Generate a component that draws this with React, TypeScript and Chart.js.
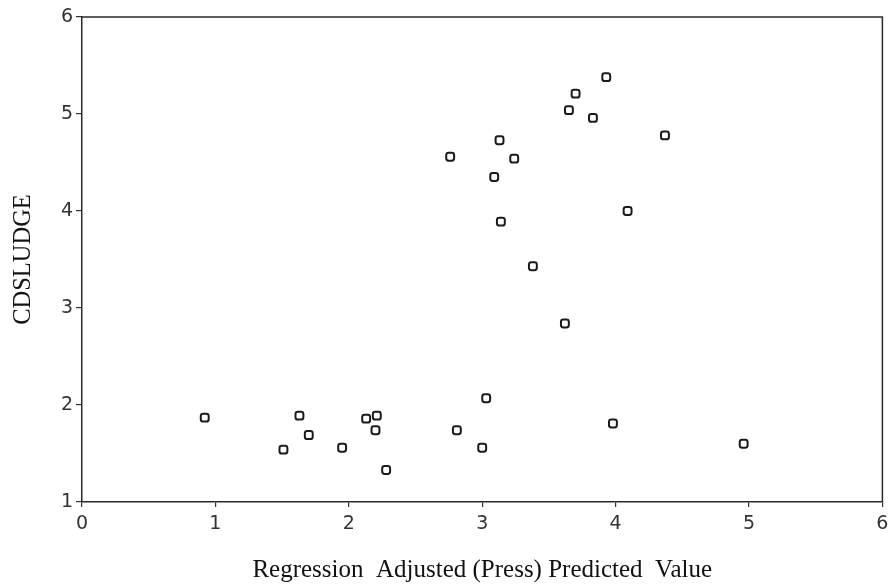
import React, { useEffect, useRef } from "react";
import { Chart, registerables } from "chart.js";

Chart.register(...registerables);

const xValues: number[] = [
  0.92, 1.51, 1.63, 1.70, 1.95, 2.13, 2.21, 2.20, 2.28, 2.81, 3.03, 3.00, 3.98, 4.96,
  2.76, 3.13, 3.24, 3.09, 3.14, 3.70, 3.65, 3.83, 3.93, 4.37, 4.09, 3.38, 3.62,
];
const yValues: number[] = [
  1.87, 1.54, 1.89, 1.69, 1.56, 1.86, 1.89, 1.74, 1.33, 1.74, 2.07, 1.56, 1.81, 1.60,
  4.56, 4.73, 4.54, 4.35, 3.89, 5.21, 5.04, 4.96, 5.38, 4.78, 4.00, 3.43, 2.84,
];
const xTicks: number[] = [0, 1, 2, 3, 4, 5, 6];
const yTicks: number[] = [1, 2, 3, 4, 5, 6];
const xTitle = "Regression  Adjusted (Press) Predicted  Value";
const yTitle = "CDSLUDGE";

const framePlugin = {
  id: "frame",
  afterDraw(chart: any) {
    const { ctx, chartArea } = chart;
    ctx.save();
    ctx.strokeStyle = "#2a2a2a";
    ctx.lineWidth = 1.5;
    ctx.beginPath();
    ctx.moveTo(chartArea.left, chartArea.top);
    ctx.lineTo(chartArea.right, chartArea.top);
    ctx.lineTo(chartArea.right, chartArea.bottom);
    ctx.stroke();
    ctx.restore();
  },
};

export default function App() {
  const ref = useRef<HTMLCanvasElement>(null);
  useEffect(() => {
    if (!ref.current) return;
    const data = xValues.map((x, i) => ({ x, y: yValues[i] }));
    const chart = new Chart(ref.current, {
      type: "scatter",
      data: {
        datasets: [
          {
            data,
            pointStyle: "rectRounded",
            pointRadius: 4.6,
            pointBorderWidth: 2,
            pointBorderColor: "#1a1a1a",
            pointBackgroundColor: "rgba(255,255,255,0)",
          },
        ],
      },
      options: {
        responsive: false,
        animation: false,
        layout: { padding: { top: 17, right: 6, left: 0, bottom: 0 } },
        plugins: { legend: { display: false }, tooltip: { enabled: false } },
        scales: {
          x: {
            type: "linear",
            min: 0,
            max: 6,
            afterFit: (s: any) => { s.height = 86; s.paddingRight = 0; s.paddingLeft = 0; },
            afterBuildTicks: (s: any) => { s.ticks = xTicks.map((v) => ({ value: v })); },
            grid: { display: true, drawOnChartArea: false, tickLength: 5, color: "#333", lineWidth: 1.2 },
            border: { display: true, color: "#2a2a2a", width: 1.5 },
            ticks: {
              padding: 6,
              color: "#333",
              font: { family: "DejaVu Sans", size: 19 },
            },
            title: {
              display: true,
              text: xTitle,
              color: "#111",
              font: { family: "Liberation Serif", size: 25 },
              padding: { top: 0, bottom: 3 },
            },
          },
          y: {
            type: "linear",
            min: 1,
            max: 6,
            afterFit: (s: any) => { s.width = 82; s.paddingTop = 0; s.paddingBottom = 0; },
            afterBuildTicks: (s: any) => { s.ticks = yTicks.map((v) => ({ value: v })); },
            grid: { display: true, drawOnChartArea: false, tickLength: 6, color: "#333", lineWidth: 1.2 },
            border: { display: true, color: "#2a2a2a", width: 1.5 },
            ticks: {
              padding: 3,
              color: "#333",
              font: { family: "DejaVu Sans", size: 19 },
            },
            title: {
              display: true,
              text: yTitle,
              color: "#111",
              font: { family: "Liberation Serif", size: 24.5 },
              padding: { top: 9, bottom: 0 },
            },
          },
        },
      },
      plugins: [framePlugin],
    });
    return () => chart.destroy();
  }, []);
  return (
    <div style={{ position: "absolute", left: 0, top: 0, width: 889, height: 588, background: "#fff" }}>
      <canvas ref={ref} width={889} height={588} />
    </div>
  );
}
